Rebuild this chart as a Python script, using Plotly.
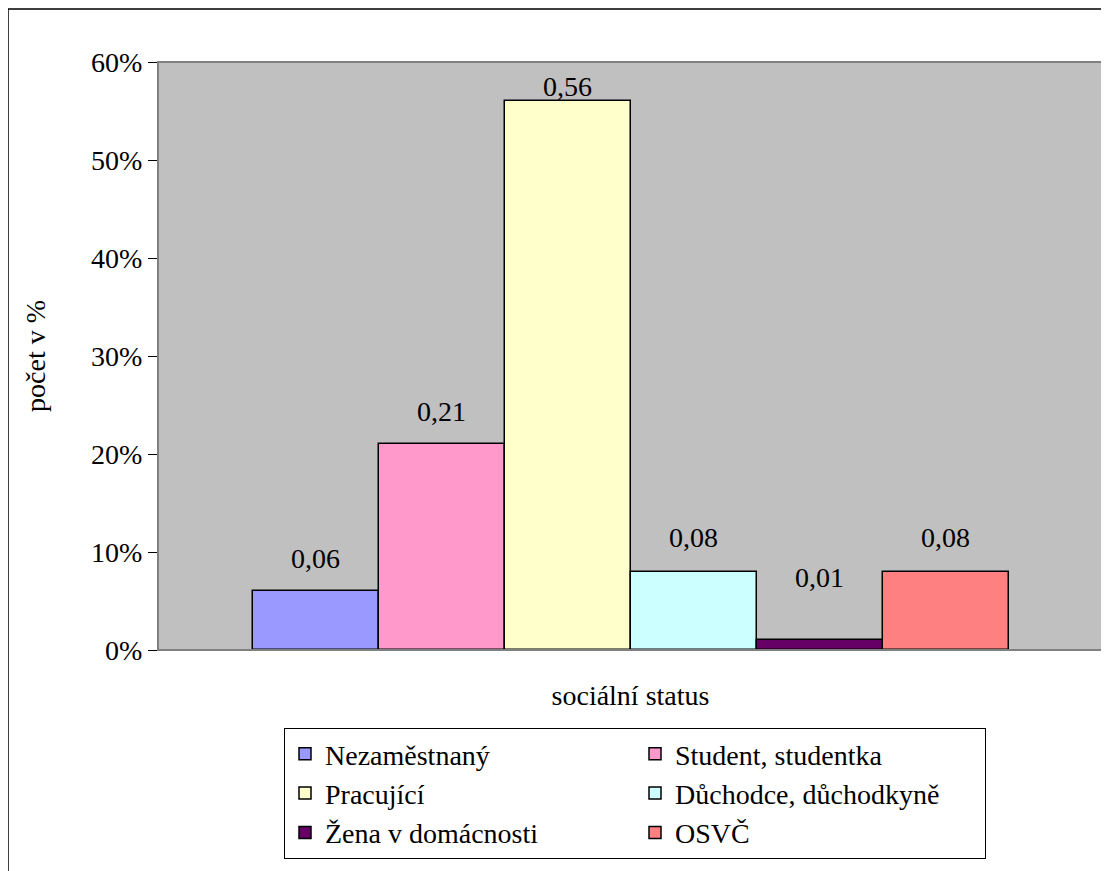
import plotly.graph_objects as go

categories = ["Nezaměstnaný", "Student, studentka", "Pracující",
              "Důchodce, důchodkyně", "Žena v domácnosti", "OSVČ"]
values = [0.06, 0.21, 0.56, 0.08, 0.01, 0.08]
colors = ["#9999FF", "#FF99CC", "#FFFFCC", "#CCFFFF", "#660066", "#FF8080"]
label_shift = [15, 15, -3, 17, 45, 17]
tick_vals = [0, 0.1, 0.2, 0.3, 0.4, 0.5, 0.6]
tick_text = ["0%", "10%", "20%", "30%", "40%", "50%", "60%"]

FONT = "Times New Roman"

fig = go.Figure()
for i, (name, v, c) in enumerate(zip(categories, values, colors)):
    fig.add_trace(go.Bar(
        x=[i], y=[v], name=name, width=1,
        marker=dict(color=c, line=dict(color="black", width=1.5)),
        hoverinfo="name+y",
    ))
    fig.add_annotation(
        x=i, y=v, xref="x", yref="y", text=f"{v:.2f}".replace(".", ","),
        showarrow=False, yanchor="bottom", yshift=label_shift[i],
        font=dict(family=FONT, size=28, color="black"),
    )

W, H = 1109, 871
L, T = 150, 54
pw, ph = 945, 588
R, B = W - L - pw, H - T - ph

# outer chart border (figure edge)
fig.add_shape(type="rect", xref="paper", yref="paper",
              x0=-L / pw, x1=(W - L) / pw,
              y0=-B / ph, y1=(ph + T - 1) / ph,
              line=dict(color="black", width=1.5), layer="below")
# plot area border
fig.add_shape(type="rect", xref="paper", yref="paper", x0=0, x1=1, y0=0, y1=1,
              line=dict(color="#808080", width=2), layer="above")

fig.update_layout(
    width=W, height=H,
    margin=dict(l=L, r=R, t=T, b=B),
    paper_bgcolor="white", plot_bgcolor="#C0C0C0",
    barmode="overlay", bargap=0,
    font=dict(family=FONT, size=28, color="black"),
    showlegend=True,
    legend=dict(
        orientation="h", x=(276 - L) / pw, xanchor="left",
        y=-(720 - (T + ph)) / ph, yanchor="top",
        bordercolor="black", borderwidth=1, bgcolor="white",
        entrywidth=305, entrywidthmode="pixels",
        font=dict(family=FONT, size=28, color="black"),
        traceorder="normal",
    ),
    xaxis=dict(range=[-1.25, 6.25], showticklabels=False, ticks="",
               showgrid=False, zeroline=False, showline=False,
               title=dict(text="sociální status", standoff=35,
                          font=dict(family=FONT, size=28))),
    yaxis=dict(range=[0, 0.6], tickvals=tick_vals, ticktext=tick_text,
               ticks="outside", ticklen=9, tickcolor="black", tickwidth=1,
               showline=True, linecolor="black", linewidth=1,
               showgrid=False, zeroline=False,
               tickfont=dict(family=FONT, size=28),
               title=dict(text="počet v %", standoff=37,
                          font=dict(family=FONT, size=28))),
)

fig.write_html("out.html")
